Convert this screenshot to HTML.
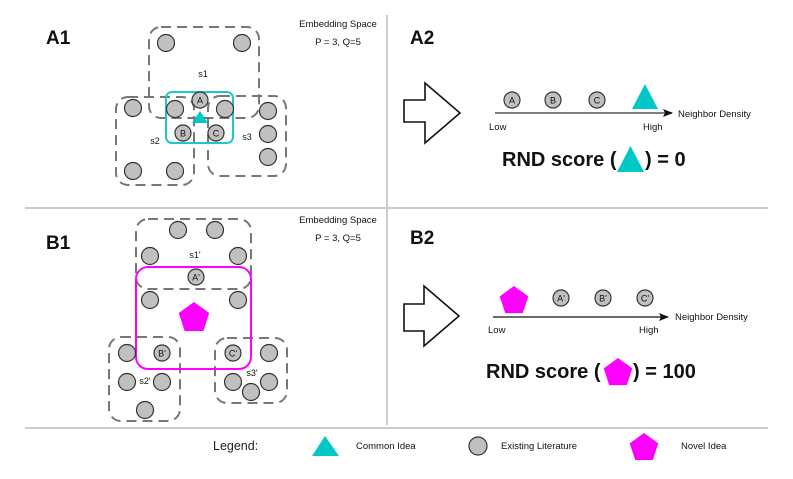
<!DOCTYPE html>
<html><head><meta charset="utf-8"><style>
html,body{margin:0;padding:0;background:#fff;}
svg{display:block;font-family:"Liberation Sans",sans-serif;}
</style></head><body>
<svg width="793" height="479" viewBox="0 0 793 479" xmlns="http://www.w3.org/2000/svg">
<defs>
<marker id="ah" markerWidth="10" markerHeight="8" refX="9" refY="4" orient="auto" markerUnits="userSpaceOnUse"><path d="M0,0 L10,4 L0,8 L2,4 Z" fill="#111"/></marker>
</defs>
<!-- grid lines -->
<line x1="387" y1="15" x2="387" y2="425" stroke="#ccc" stroke-width="2"/>
<line x1="25" y1="208" x2="768" y2="208" stroke="#ccc" stroke-width="2"/>
<line x1="25" y1="428" x2="768" y2="428" stroke="#ccc" stroke-width="2"/>

<g font-weight="bold" font-size="19" fill="#111">
<text x="46" y="44">A1</text>
<text x="410" y="44">A2</text>
<text x="46" y="249">B1</text>
<text x="410" y="244">B2</text>
</g>
<g font-size="9.5" fill="#111" text-anchor="middle">
<text x="338" y="27">Embedding Space</text>
<text x="338" y="45">P = 3, Q=5</text>
<text x="338" y="223">Embedding Space</text>
<text x="338" y="241">P = 3, Q=5</text>
</g>

<!-- A1 -->
<g fill="none" stroke="#777" stroke-width="2" stroke-dasharray="10,6">
<rect x="149" y="27" width="110" height="91" rx="12"/>
<rect x="116" y="97" width="78" height="88" rx="12"/>
<rect x="208" y="96" width="78" height="80" rx="12"/>
</g>
<rect x="166" y="92" width="67" height="51" rx="6" fill="none" stroke="#1cc8c8" stroke-width="2"/>
<g fill="#c0c0c0" stroke="#333" stroke-width="1.2">
<circle cx="166" cy="43" r="8.5"/><circle cx="242" cy="43" r="8.5"/>
<circle cx="133" cy="108" r="8.5"/><circle cx="175" cy="109" r="8.5"/><circle cx="225" cy="109" r="8.5"/>
<circle cx="133" cy="171" r="8.5"/><circle cx="175" cy="171" r="8.5"/>
<circle cx="268" cy="111" r="8.5"/><circle cx="268" cy="134" r="8.5"/><circle cx="268" cy="157" r="8.5"/>
<circle cx="200" cy="100" r="8"/><circle cx="183" cy="133" r="8"/><circle cx="216" cy="133" r="8"/>
</g>
<polygon points="200,111 208,123 192,123" fill="#00c8c8"/>
<g font-size="9" fill="#111" text-anchor="middle">
<text x="200" y="103.5">A</text><text x="183" y="136.5">B</text><text x="216" y="136.5">C</text>
<text x="203" y="77">s1</text><text x="155" y="144">s2</text><text x="247" y="140">s3</text>
</g>

<!-- B1 -->
<g fill="none" stroke="#777" stroke-width="2" stroke-dasharray="10,6">
<rect x="136" y="219" width="115" height="70" rx="12"/>
<rect x="109" y="337" width="71" height="84" rx="12"/>
<rect x="215" y="338" width="72" height="65" rx="12"/>
</g>
<rect x="136" y="267" width="115" height="102" rx="12" fill="none" stroke="#ff00ff" stroke-width="2"/>
<g fill="#c0c0c0" stroke="#333" stroke-width="1.2">
<circle cx="178" cy="230" r="8.5"/><circle cx="215" cy="230" r="8.5"/>
<circle cx="150" cy="256" r="8.5"/><circle cx="238" cy="256" r="8.5"/>
<circle cx="150" cy="300" r="8.5"/><circle cx="238" cy="300" r="8.5"/>
<circle cx="127" cy="353" r="8.5"/><circle cx="127" cy="382" r="8.5"/><circle cx="162" cy="382" r="8.5"/><circle cx="145" cy="410" r="8.5"/>
<circle cx="269" cy="353" r="8.5"/><circle cx="233" cy="382" r="8.5"/><circle cx="269" cy="382" r="8.5"/><circle cx="251" cy="392" r="8.5"/>
<circle cx="196" cy="277" r="8"/><circle cx="162" cy="353" r="8"/><circle cx="233" cy="353" r="8"/>
</g>
<polygon points="194,302 209.2,313 203.4,331 184.6,331 178.8,313" fill="#ff00ff"/>
<g font-size="9" fill="#111" text-anchor="middle">
<text x="196" y="280.5">A'</text><text x="162" y="356.5">B'</text><text x="233" y="356.5">C'</text>
<text x="195" y="258">s1'</text><text x="145" y="384">s2'</text><text x="252" y="376">s3'</text>
</g>

<!-- A2 -->
<polygon points="404,100 425,100 425,83 460,113 425,143 425,122 404,122" fill="#fff" stroke="#111" stroke-width="1.6"/>
<line x1="495" y1="113" x2="672" y2="113" stroke="#555" stroke-width="1.5" marker-end="url(#ah)"/>
<g fill="#c0c0c0" stroke="#333" stroke-width="1.2">
<circle cx="512" cy="100" r="8"/><circle cx="553" cy="100" r="8"/><circle cx="597" cy="100" r="8"/>
</g>
<polygon points="645,84 658,109 632,109" fill="#00c8c8"/>
<g font-size="9" fill="#111" text-anchor="middle">
<text x="512" y="103.5">A</text><text x="553" y="103.5">B</text><text x="597" y="103.5">C</text>
</g>
<g font-size="9.5" fill="#111">
<text x="489" y="130">Low</text><text x="643" y="130">High</text><text x="678" y="117">Neighbor Density</text>
</g>
<text x="502" y="166" font-size="20" font-weight="bold" fill="#111">RND score (</text>
<polygon points="630.5,146 644,172 617,172" fill="#00c8c8"/>
<text x="645" y="166" font-size="20" font-weight="bold" fill="#111">) = 0</text>

<!-- B2 -->
<polygon points="404,304 424,304 424,286 459,316 424,346 424,331 404,331" fill="#fff" stroke="#111" stroke-width="1.6"/>
<line x1="493" y1="317" x2="668" y2="317" stroke="#111" stroke-width="1.3" marker-end="url(#ah)"/>
<polygon points="514,286 528.3,296.4 522.8,313.1 505.2,313.1 499.7,296.4" fill="#ff00ff"/>
<g fill="#c0c0c0" stroke="#333" stroke-width="1.2">
<circle cx="561" cy="298" r="8"/><circle cx="603" cy="298" r="8"/><circle cx="645" cy="298" r="8"/>
</g>
<g font-size="9" fill="#111" text-anchor="middle">
<text x="561" y="301.5">A'</text><text x="603" y="301.5">B'</text><text x="645" y="301.5">C'</text>
</g>
<g font-size="9.5" fill="#111">
<text x="488" y="333">Low</text><text x="639" y="333">High</text><text x="675" y="320">Neighbor Density</text>
</g>
<text x="486" y="378" font-size="20" font-weight="bold" fill="#111">RND score (</text>
<polygon points="618,358 632.3,368.4 626.8,385.1 609.2,385.1 603.7,368.4" fill="#ff00ff"/>
<text x="633" y="378" font-size="20" font-weight="bold" fill="#111">) = 100</text>

<!-- Legend -->
<text x="213" y="450" font-size="12.5" fill="#222">Legend:</text>
<polygon points="325,436 339,456 312,456" fill="#00c8c8"/>
<text x="356" y="449" font-size="9.5" fill="#111">Common Idea</text>
<circle cx="478" cy="446" r="9" fill="#c0c0c0" stroke="#333" stroke-width="1.2"/>
<text x="501" y="449" font-size="9.5" fill="#111">Existing Literature</text>
<polygon points="644,433 658.3,443.4 652.8,460 635.2,460 629.7,443.4" fill="#ff00ff"/>
<text x="681" y="449" font-size="9.5" fill="#111">Novel Idea</text>
</svg>
</body></html>
